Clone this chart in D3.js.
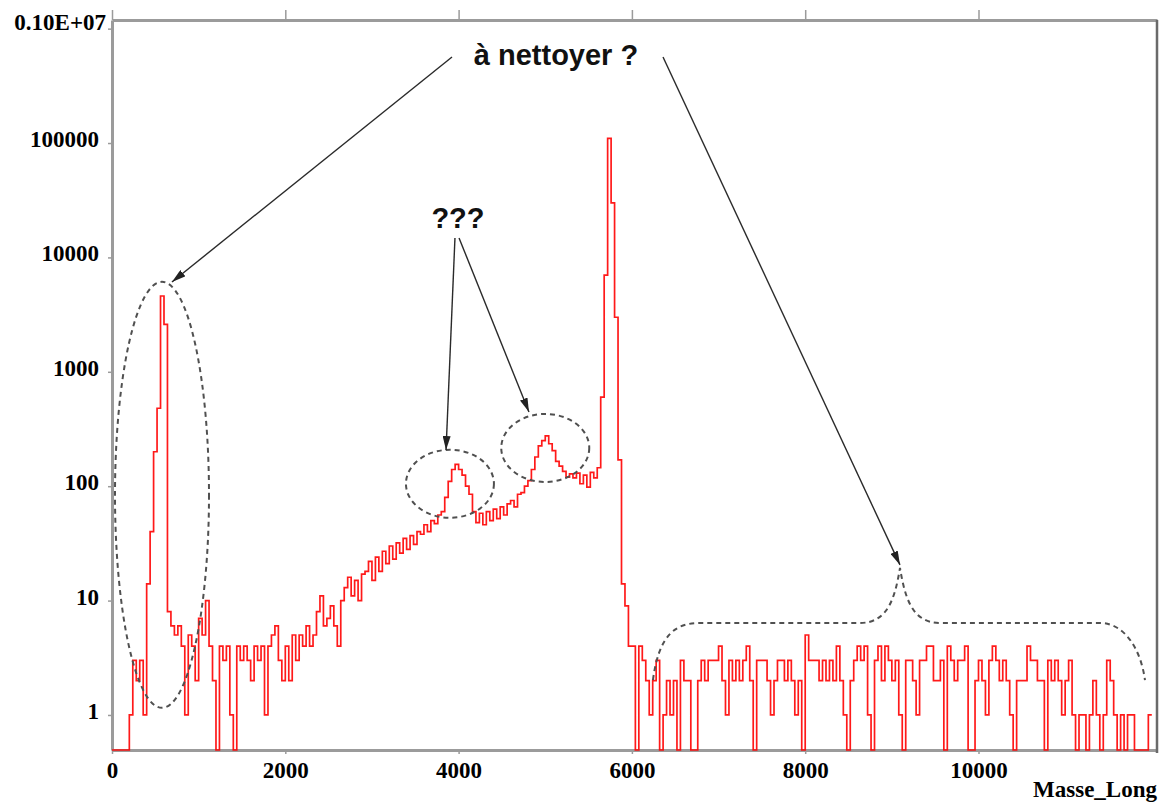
<!DOCTYPE html>
<html lang="fr">
<head>
<meta charset="utf-8"/>
<style>
  body { margin: 0; background: #ffffff; }
  .ticklab { font-family: "Liberation Serif", "Times New Roman", serif; font-weight: bold; font-size: 23px; fill: #000; }
  .note { font-family: "Liberation Sans", Arial, sans-serif; font-weight: bold; fill: #111; }
</style>
</head>
<body>
<svg id="chart" width="1165" height="807"></svg>
<script src="https://d3js.org/d3.v7.min.js"></script>
<script>
// bin width of the histogram (Masse_Long units)
let binWidth = 40

// counts per bin, 50 bins per 2000 units
let counts0to2000 = [0,0,0,0,0,1,3,2,3,1, 14,40,200,480,4600,2600,8,6,5,6, 4,1,5,4,2,7,5,10,4,2,
                     0,4,3,4,1,0,4,3,4,3, 2,4,3,4,1,4,5,6,3,2]
let counts2000to4000 = [4,2,5,3,5,4,6,4,5,8, 11,6,7,9,6,4,10,13,16,11, 15,10,17,18,22,15,24,18,27,21,
                        30,23,32,26,35,28,37,31,40,38, 46,40,50,47,56,60,80,110,140,155]
let counts4000to6000 = [140,125,100,85,60,48,58,46,60,50, 63,52,66,56,70,75,66,85,88,100,
                        112,140,180,225,250,275,235,205,165,150, 135,120,128,118,130,105,125,98,132,118,
                        145,600,7000,110000,30000,3000,170,14,9,4]
let counts6000to8000 = [4,0,4,3,2,1,2,3,0,1, 2,1,2,0,3,2,2,0,0,2, 3,2,3,3,3,4,2,1,3,2,
                        3,2,3,4,2,0,3,3,3,2, 1,2,3,3,2,3,2,1,2,0]
let counts8000to10000 = [5,3,3,3,2,3,2,3,2,4, 2,1,0,2,3,4,3,4,1,0, 3,4,2,4,3,2,3,1,0,3,
                         3,2,1,3,3,4,4,2,2,3, 0,4,3,2,3,3,4,0,0,2]
let counts10000to12000 = [3,2,1,3,4,3,2,3,2,1, 0,2,2,2,4,3,3,2,2,0, 3,2,3,2,1,2,3,1,0,1,
                          1,0,1,2,1,0,1,3,2,1, 0,1,0,1,1,0,0,0,0,1]

let xTicks = [0, 2000, 4000, 6000, 8000, 10000]
let yTicks = [1, 10, 100, 1000, 10000, 100000, 1000000]
let yTickLabels = ["1", "10", "100", "1000", "10000", "100000", "0.10E+07"]
let xTitle = "Masse_Long"

let svg = d3.select("#chart")

let xScale = d3.scaleLinear().domain([0, 12060]).range([112, 1157])
let yScale = d3.scaleLog().domain([0.494, 1.19e6]).range([750, 20])
let yBottom = yScale.range()[0]
let yOf = v => v > 0 ? yScale(v) : yBottom

let counts = [].concat(counts0to2000, counts2000to4000, counts4000to6000,
                       counts6000to8000, counts8000to10000, counts10000to12000)
let steps = counts.map((c, i) => ({ x: i * binWidth, c: c }))
steps.push({ x: counts.length * binWidth, c: counts[counts.length - 1] })

// ---- axes ----
let axisGrey = "#9b9b9b"

let yAxis = svg.append("g")
  .attr("transform", "translate(" + xScale(0) + ",0)")
  .call(d3.axisLeft(yScale).tickValues(yTicks).tickSize(4).tickSizeOuter(0).tickPadding(9)
        .tickFormat((d, i) => yTickLabels[i]))
yAxis.select(".domain").attr("stroke", axisGrey).attr("stroke-width", 3)
yAxis.selectAll(".tick line").attr("stroke", axisGrey).attr("stroke-width", 1.5)
yAxis.selectAll(".tick text").attr("class", "ticklab").attr("dy", "0.15em")
  .attr("font-family", null).attr("font-size", null)
yAxis.selectAll(".tick text").filter(d => d === 1000000).attr("dy", "0.02em").attr("x", -6)

let xAxis = svg.append("g")
  .attr("transform", "translate(0," + yBottom + ")")
  .call(d3.axisBottom(xScale).tickValues(xTicks).tickSize(4).tickSizeOuter(0).tickPadding(8)
        .tickFormat(d3.format("d")))
xAxis.select(".domain").attr("stroke", axisGrey).attr("stroke-width", 3)
xAxis.selectAll(".tick line").attr("stroke", axisGrey).attr("stroke-width", 1.5)
xAxis.selectAll(".tick text").attr("class", "ticklab").attr("font-family", null).attr("font-size", null)

let topAxis = svg.append("g")
  .attr("transform", "translate(0," + yScale.range()[1] + ")")
  .call(d3.axisTop(xScale).tickValues(xTicks).tickSize(10).tickSizeOuter(0).tickFormat(""))
topAxis.select(".domain").attr("stroke", axisGrey).attr("stroke-width", 3)
topAxis.selectAll(".tick line").attr("stroke", axisGrey).attr("stroke-width", 1.5)

// right border
svg.append("line")
  .attr("x1", xScale.range()[1]).attr("x2", xScale.range()[1])
  .attr("y1", yScale.range()[1]).attr("y2", yBottom + 3)
  .attr("stroke", "#6a6a6a").attr("stroke-width", 2.5)

svg.append("text").attr("class", "ticklab")
  .attr("x", xScale.range()[1]).attr("y", 797)
  .attr("text-anchor", "end")
  .attr("font-size", 24)
  .text(xTitle)

// ---- histogram ----
let line = d3.line()
  .x(d => xScale(d.x))
  .y(d => yOf(d.c))
  .curve(d3.curveStepAfter)

svg.append("path")
  .datum(steps)
  .attr("d", line)
  .attr("fill", "none")
  .attr("stroke", "#ff0000")
  .attr("stroke-width", 1.7)
  .attr("stroke-opacity", 0.9)

// ---- annotations (data coordinates) ----
let dashGrey = "#505050"
let px = p => [xScale(p[0]), yScale(p[1])]

svg.append("defs").append("marker")
  .attr("id", "head")
  .attr("viewBox", "0 0 14 8")
  .attr("refX", 14).attr("refY", 4)
  .attr("markerWidth", 14).attr("markerHeight", 8)
  .attr("markerUnits", "userSpaceOnUse")
  .attr("orient", "auto")
  .append("path").attr("d", "M0,0 L14,4 L0,8 Z").attr("fill", "#222")

let ellipses = [
  { c: [577, 84], rx: 47, ry: 213 },
  { c: [3900, 105], rx: 44, ry: 34 },
  { c: [5000, 216], rx: 44, ry: 34 }
]
svg.selectAll(".ring").data(ellipses).enter().append("ellipse")
  .attr("class", "ring")
  .attr("cx", d => px(d.c)[0]).attr("cy", d => px(d.c)[1])
  .attr("rx", d => d.rx).attr("ry", d => d.ry)
  .attr("fill", "none").attr("stroke", dashGrey)
  .attr("stroke-width", 2).attr("stroke-dasharray", "5,4")

// brace over the noisy tail
let braceLeft = px([6243, 2.02]), braceL = px([6786, 6.37]), braceMidL = px([8632, 6.37])
let braceTip = px([9094, 19.3]), braceMidR = px([9556, 6.37]), braceR = px([11402, 6.37])
let braceRight = px([11921, 2.02])
let brace = d3.path()
brace.moveTo(braceLeft[0], braceLeft[1])
brace.bezierCurveTo(braceLeft[0] + 6, braceL[1] + 12, braceL[0] - 25, braceL[1], braceL[0], braceL[1])
brace.lineTo(braceMidL[0], braceMidL[1])
brace.bezierCurveTo(braceMidL[0] + 28, braceMidL[1], braceTip[0] - 5, braceTip[1] + 30, braceTip[0], braceTip[1])
brace.bezierCurveTo(braceTip[0] + 5, braceTip[1] + 30, braceMidR[0] - 28, braceMidR[1], braceMidR[0], braceMidR[1])
brace.lineTo(braceR[0], braceR[1])
brace.bezierCurveTo(braceR[0] + 25, braceR[1], braceRight[0] - 4, braceRight[1] - 30, braceRight[0], braceRight[1])
svg.append("path").attr("d", brace.toString())
  .attr("fill", "none").attr("stroke", dashGrey)
  .attr("stroke-width", 2).attr("stroke-dasharray", "5,4")

let arrows = [
  { from: [3924, 565000], to: [692, 6100] },
  { from: [6359, 565000], to: [9094, 20.5] },
  { from: [3958, 14800], to: [3855, 207] },
  { from: [4005, 14800], to: [4812, 445] }
]
svg.selectAll(".arrow").data(arrows).enter().append("line")
  .attr("class", "arrow")
  .attr("x1", d => px(d.from)[0]).attr("y1", d => px(d.from)[1])
  .attr("x2", d => px(d.to)[0]).attr("y2", d => px(d.to)[1])
  .attr("stroke", "#2a2a2a").attr("stroke-width", 1.4)
  .attr("marker-end", "url(#head)")

let notes = [
  { text: "à nettoyer ?", at: [5124, 481000], size: 29 },
  { text: "???", at: [3993, 18100], size: 29 }
]
svg.selectAll(".note").data(notes).enter().append("text")
  .attr("class", "note")
  .attr("x", d => px(d.at)[0]).attr("y", d => px(d.at)[1])
  .attr("text-anchor", "middle")
  .attr("font-size", d => d.size)
  .text(d => d.text)
</script>
</body>
</html>
